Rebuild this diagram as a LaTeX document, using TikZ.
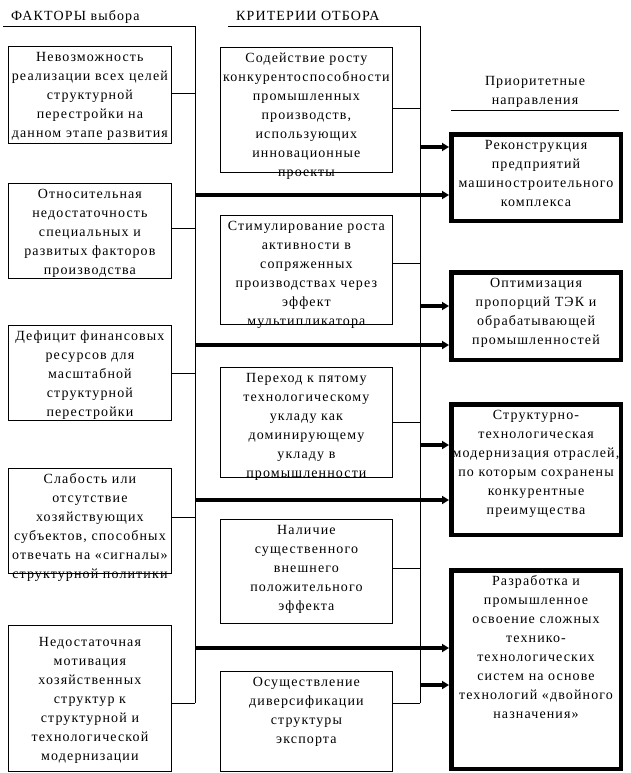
\documentclass[tikz,border=0pt]{standalone}
\usepackage{fontspec}
\setmainfont[LetterSpace=8]{Liberation Serif}
\usetikzlibrary{arrows.meta}
\tikzset{
  link/.style={line width=0.8pt},
  factor/.style={draw, link, anchor=north west, text width=161pt,
                 inner xsep=1pt, inner ysep=3pt, align=center, text height=12pt},
  crit/.style={factor, text width=170pt},
  prio/.style={draw, line width=4.5pt, anchor=north west, text width=167.5pt,
               inner xsep=1pt, inner ysep=3pt, align=center, text height=12pt},
  head/.style={anchor=base west, inner sep=0pt},
  feed/.style={-{Triangle[length=7pt,width=8pt]}, line width=3.5pt},
}

\begin{document}
\begin{tikzpicture}[x=1pt, y=-1pt, font=\fontsize{14}{19}\selectfont]
  \useasboundingbox (0,0) rectangle (630,773);
  % headings and trunks
  \node[head] (hf) at (11,21) {ФАКТОРЫ выбора};
  \node[head] (hk) at (236,21) {КРИТЕРИИ ОТБОРА};
  \node[anchor=base, text width=170pt, align=center, inner sep=0pt] (hp) at (535,86)
    {Приоритетные\\направления};
  \coordinate (lt) at (195,26);
  \coordinate (kt) at (420,26);
  \draw[link] (3,26) -- (lt) -- (lt |- 0,703);
  \draw[link] (228,26) -- (kt) -- (kt |- 0,703);
  \draw[link] (451,110) -- (619,110);

  % factors
  \node[factor, text depth=79pt] (f1) at (8,46)
    {Невозможность\\реализации всех целей\\структурной\\перестройки на\\данном этапе развития};
  \node[factor, text depth=77pt] (f2) at (8,183)
    {Относительная\\недостаточность\\специальных и\\развитых факторов\\производства};
  \node[factor, text depth=77pt] (f3) at (8,325)
    {Дефицит финансовых\\ресурсов для\\масштабной\\структурной\\перестройки};
  \node[factor, text depth=87pt] (f4) at (8,468)
    {Слабость или\\отсутствие\\хозяйствующих\\субъектов, способных\\отвечать на «сигналы»\\структурной политики};
  \node[factor, text height=18pt, text depth=122pt] (f5) at (8,625)
    {Недостаточная\\мотивация\\хозяйственных\\структур к\\структурной и\\технологической\\модернизации};

  % criteria
  \node[crit, text depth=107pt] (k1) at (220,47)
    {Содействие росту\\конкурентоспособности\\промышленных\\производств,\\использующих\\инновационные\\проекты};
  \node[crit, text depth=91pt] (k2) at (220,215)
    {Стимулирование роста\\активности в\\сопряженных\\производствах через\\эффект\\мультипликатора};
  \node[crit, text depth=92pt] (k3) at (220,367)
    {Переход к пятому\\технологическому\\укладу как\\доминирующему\\укладу в\\промышленности};
  \node[crit, text depth=86pt] (k4) at (220,519)
    {Наличие\\существенного\\внешнего\\положительного\\эффекта};
  \node[crit, text depth=82pt] (k5) at (220,671)
    {Осуществление\\диверсификации\\структуры\\экспорта};

  % priorities
  \node[prio, text depth=68.5pt] (p1) at (449,132)
    {Реконструкция\\предприятий\\машиностроительного\\комплекса};
  \node[prio, text depth=69.5pt] (p2) at (449,270)
    {Оптимизация\\пропорций ТЭК и\\обрабатывающей\\промышленностей};
  \node[prio, text depth=112.5pt] (p3) at (449,402)
    {Структурно-\\технологическая\\модернизация отраслей,\\по которым сохранены\\конкурентные\\преимущества};
  \node[prio, text depth=180.5pt] (p4) at (449,568)
    {Разработка и\\промышленное\\освоение сложных\\технико-\\технологических\\систем на основе\\технологий «двойного\\назначения»};

  % connectors
  \foreach \i/\y in {1/93,2/228,3/373,4/517,5/703}
    \draw[link] (f\i.east |- 0,\y) -- (lt |- 0,\y);
  \foreach \i/\y in {1/108,2/263,3/422,4/568,5/703}
    \draw[link] (k\i.east |- 0,\y) -- (kt |- 0,\y);
  \foreach \i/\y in {1/195,2/345,3/500,4/648}
    \draw[feed] (lt |- 0,\y) -- (p\i.west |- 0,\y);
  \foreach \i/\y in {1/147,2/306,3/445,4/685}
    \draw[feed] (kt |- 0,\y) -- (p\i.west |- 0,\y);
\end{tikzpicture}
\end{document}
